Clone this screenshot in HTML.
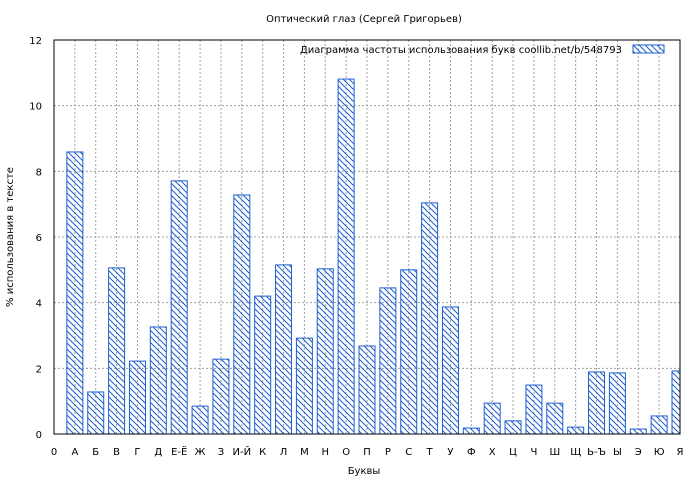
<!DOCTYPE html>
<html><head><meta charset="utf-8"><style>
body{margin:0;background:#fff}
svg{display:block;font-family:"DejaVu Sans","Liberation Sans",sans-serif}
</style></head><body>
<svg id="c" width="700" height="480" xmlns="http://www.w3.org/2000/svg">
<defs><pattern id="h" patternUnits="userSpaceOnUse" width="6" height="6"><path d="M-1,-1 L7,7 M-7,-1 L1,7 M5,-1 L13,7" stroke="#1f5fcf" stroke-width="1"/></pattern></defs>
<rect width="700" height="480" fill="#fff"/>
</svg>
<script>
const categories=["А","Б","В","Г","Д","Е-Ё","Ж","З","И-Й","К","Л","М","Н","О","П","Р","С","Т","У","Ф","Х","Ц","Ч","Ш","Щ","Ь-Ъ","Ы","Э","Ю","Я"];
const values=[8.59,1.28,5.06,2.22,3.26,7.71,0.85,2.28,7.28,4.20,5.15,2.92,5.03,10.81,2.68,4.45,5.0,7.04,3.87,0.18,0.94,0.4,1.49,0.94,0.21,1.89,1.86,0.15,0.55,1.92];
const yTicks=[0,2,4,6,8,10,12];
const svg=document.getElementById('c');
const NS='http://www.w3.org/2000/svg';
const L=54,R=680,T=40,B=434;
const xs=i=>L+(R-L)*i/30;
const ys=v=>B-(B-T)*v/12;
function mk(t,a,txt){const e=document.createElementNS(NS,t);for(const k in a)e.setAttribute(k,a[k]);if(txt!==undefined)e.textContent=txt;svg.appendChild(e);return e;}
for(let i=0;i<=30;i++){const g=mk('line',{x1:xs(i),x2:xs(i),y1:T,y2:B,stroke:'#a0a0a0','stroke-dasharray':'2,2'});

}
yTicks.forEach(v=>{const g=mk('line',{x1:L,x2:R,y1:ys(v),y2:ys(v),stroke:'#a0a0a0','stroke-dasharray':'2,2'});


const t=mk('text',{x:L-12,y:ys(v)+4,'text-anchor':'end','font-size':10},String(v));

});
const x0=mk('text',{x:xs(0),y:455,'text-anchor':'middle','font-size':10},'0');


categories.forEach((c,i)=>{const x=xs(i+1);
const w=16;let bx=x-w/2,bw=w;if(bx+bw>R)bw=R-bx;
const r=mk('rect',{x:bx,y:ys(values[i]),width:bw,height:B-ys(values[i]),fill:'url(#h)',stroke:'#1f5fcf','stroke-width':1});


const t=mk('text',{x:x,y:455,'text-anchor':'middle','font-size':10},c);

});
const f=mk('rect',{x:L,y:T,width:R-L,height:B-T,fill:'none',stroke:'#000','stroke-width':1});


const tt=mk('text',{x:364,y:22,'text-anchor':'middle','font-size':10},'Оптический глаз (Сергей Григорьев)');


const xt=mk('text',{x:364,y:474,'text-anchor':'middle','font-size':10},'Буквы');


const yt=mk('text',{x:13,y:237,'text-anchor':'middle','font-size':10,transform:'rotate(-90 13 237)'},'% использования в тексте');


const lt=mk('text',{x:622,y:53,'text-anchor':'end','font-size':10},'Диаграмма частоты использования букв  coollib.net/b/548793');


const ls=mk('rect',{x:633,y:45,width:31,height:8,fill:'url(#h)',stroke:'#1f5fcf','stroke-width':1});


</script>
</body></html>
